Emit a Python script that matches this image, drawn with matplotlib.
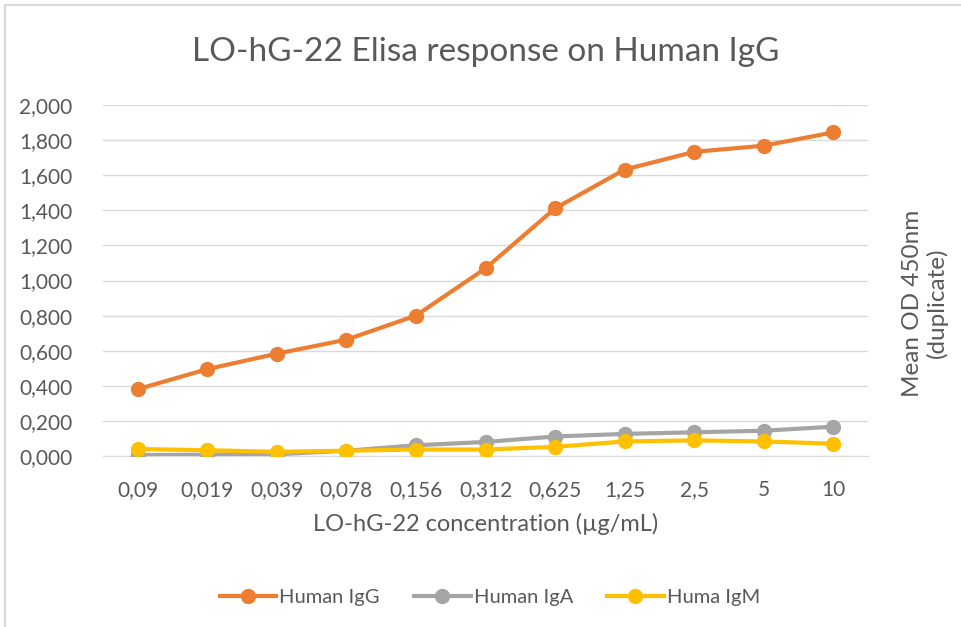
import numpy as np
import matplotlib
matplotlib.use('Agg')
import matplotlib.pyplot as plt
from matplotlib.lines import Line2D

plt.rcParams['font.family'] = ['Lato', 'DejaVu Sans']

concLabels = ['0,09', '0,019', '0,039', '0,078', '0,156', '0,312', '0,625', '1,25', '2,5', '5', '10']
igG = [0.381, 0.495, 0.583, 0.663, 0.800, 1.069, 1.411, 1.632, 1.733, 1.768, 1.844]
igA = [0.005, 0.008, 0.010, 0.030, 0.061, 0.080, 0.111, 0.126, 0.135, 0.144, 0.167]
igM = [0.040, 0.033, 0.024, 0.030, 0.037, 0.037, 0.052, 0.083, 0.089, 0.083, 0.070]
yTicks = [0.0, 0.2, 0.4, 0.6, 0.8, 1.0, 1.2, 1.4, 1.6, 1.8, 2.0]

txtCol = '#595959'
W, H = 961, 627
fig = plt.figure(figsize=(W/100, H/100), dpi=100)
ax = fig.add_axes([103/W, 1-456/H, 765/W, 351/H])

x = np.arange(len(concLabels))
ax.plot(x, igG, '-o', color='#ED7D31', lw=3, ms=10, label='Human IgG', zorder=3)
ax.plot(x, igA, '-o', color='#A5A5A5', lw=3, ms=10, label='Human IgA', zorder=3)
ax.plot(x, igM, '-o', color='#FFC000', lw=3, ms=10, label='Huma IgM', zorder=4)

ax.set_xlim(-0.5, len(concLabels)-0.5)
ax.set_ylim(0, 2.0)
ax.set_yticks(yTicks)
ax.yaxis.set_major_formatter(plt.FuncFormatter(lambda v, p: ('%.3f' % v).replace('.', ',')))
ax.set_xticks(x)
ax.set_xticklabels(concLabels)
ax.tick_params(length=0, labelsize=15, colors=txtCol)
ax.tick_params(axis='x', pad=17)
ax.tick_params(axis='y', pad=22)
ax.grid(axis='y', color='#D9D9D9', lw=1)
ax.set_axisbelow(True)
for s in ax.spines.values():
    s.set_visible(False)
ax.spines['bottom'].set_visible(True)
ax.spines['bottom'].set_color('#D9D9D9')

fig.text(486/W, 1-52/H, 'LO-hG-22 Elisa response on Human IgG', ha='center', va='center',
         fontsize=24, color=txtCol)
fig.text(486/W, 1-524/H, 'LO-hG-22 concentration (µg/mL)', ha='center', va='center',
         fontsize=17, color=txtCol)
fig.text(925/W, 1-303/H, 'Mean OD 450nm\n(duplicate)', ha='center', va='center',
         rotation=90, fontsize=17.5, color=txtCol, linespacing=1.15)

handles = [Line2D([0], [0], color=c, lw=3, marker='o', ms=10) for c in ['#ED7D31', '#A5A5A5', '#FFC000']]
fig.legend(handles, ['Human IgG', 'Human IgA', 'Huma IgM'], loc='center', bbox_to_anchor=(490/W, 1-597/H),
           ncol=3, frameon=False, fontsize=14.5, labelcolor=txtCol, handlelength=2.8,
           handletextpad=0.15, columnspacing=1.7)

# chart frame
fig.add_artist(Line2D([5/W, 1], [1-5/H, 1-5/H], color='#D9D9D9', lw=1.5))
fig.add_artist(Line2D([5/W, 5/W], [0, 1-5/H], color='#D9D9D9', lw=1.5))

fig.savefig('out.png', dpi=100)
